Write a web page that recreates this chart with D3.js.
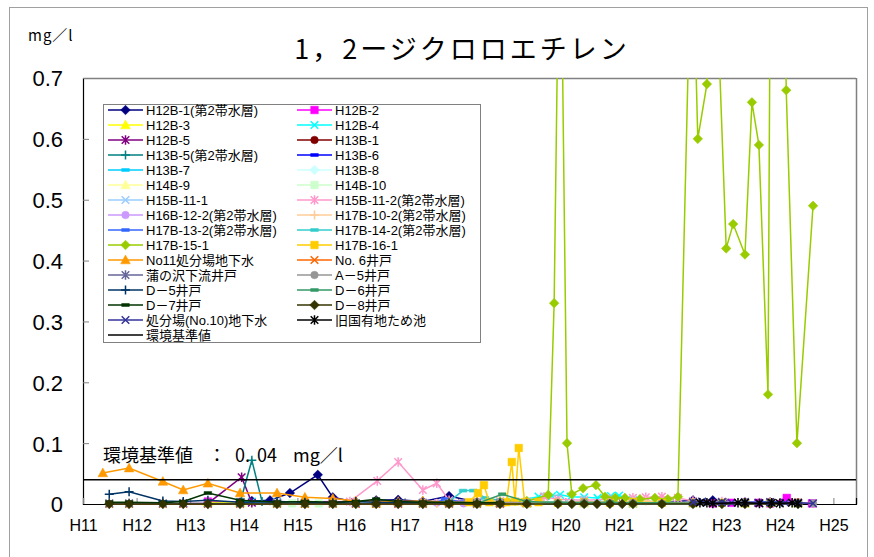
<!DOCTYPE html>
<html><head><meta charset="utf-8">
<script src="https://cdn.jsdelivr.net/npm/d3@7"></script>
<style>body{margin:0;background:#fff}svg{display:block}</style>
</head><body>
<svg id="c" width="874" height="557"></svg>
<script>
// ---------- data ----------
const xTickLabels = ["H11","H12","H13","H14","H15","H16","H17","H18","H19","H20","H21","H22","H23","H24","H25"];
const xTickYears = [11,12,13,14,15,16,17,18,19,20,21,22,23,24,25];
const yTicks = [0,0.1,0.2,0.3,0.4,0.5,0.6,0.7];
const standardValue = 0.04;

const seriesNames = ["H12B-1(第2帯水層)","H12B-2","H12B-3","H12B-4","H12B-5","H13B-1","H13B-5(第2帯水層)","H13B-6","H13B-7","H13B-8","H14B-9","H14B-10","H15B-11-1","H15B-11-2(第2帯水層)","H16B-12-2(第2帯水層)","H17B-10-2(第2帯水層)","H17B-13-2(第2帯水層)","H17B-14-2(第2帯水層)","H17B-15-1","H17B-16-1","No11処分場地下水","No. 6井戸","蒲の沢下流井戸","A－5井戸","D－5井戸","D－6井戸","D－7井戸","D－8井戸","処分場(No.10)地下水","旧国有地ため池"];

// sampling dates (Heisei year, decimal) and values (mg/l)
const x01 = [13.33,13.93,14.15,14.49,14.86,15.38,15.66,16.09,16.47,16.88,17.34,17.83,18.35,18.78,19.28,19.86,20.35,20.83,21.26,21.80,22.38,22.75,23.35,23.82,24.34];
const y01 = [0.001,0.002,0.005,0.006,0.018,0.048,0.011,0.003,0.006,0.007,0.004,0.013,0.003,0.002,0.002,0.003,0.002,0.002,0.003,0.002,0.006,0.006,0.003,0.003,0.002];
const x02 = [13.33,13.93,14.62,15.66,16.47,17.34,18.35,19.28,20.35,21.26,22.38,22.75,23.10,23.35,23.60,23.82,24.13,24.34,24.60];
const y02 = [0.004,0.003,0.002,0.004,0.002,0.002,0.002,0.002,0.002,0.003,0.002,0.001,0.002,0.001,0.002,0.001,0.010,0.002,0.001];
const x03 = [13.33,13.93,14.62,15.14,15.66,16.47,17.34,18.35,19.28,20.35,21.26,22.38,23.35,24.34];
const y03 = [0.003,0.002,0.002,0.001,0.002,0.001,0.002,0.002,0.001,0.002,0.001,0.002,0.001,0.001];
const x04 = [13.93,14.15,14.62,15.66,16.47,17.34,18.35,19.00,19.50,19.75,19.90,20.10,20.35,20.60,20.85,21.00,21.26,21.80,22.38,22.92,23.35,23.82,24.34];
const y04 = [0.003,0.004,0.003,0.002,0.002,0.002,0.003,0.004,0.012,0.013,0.015,0.012,0.011,0.010,0.013,0.014,0.006,0.003,0.002,0.002,0.003,0.002,0.002];
const x05 = [12.87,13.33,13.96,14.15,14.62,15.14,15.66,16.47,17.34,18.35,19.28,20.35,21.26,22.38,23.35,24.34];
const y05 = [0.001,0.001,0.044,0.002,0.002,0.001,0.003,0.002,0.001,0.002,0.001,0.002,0.001,0.002,0.001,0.002];
const x06 = [13.93,14.62,15.14,15.66,16.47,17.34,18.35,19.28,20.35,21.26,22.38,23.35,24.34];
const y06 = [0.002,0.001,0.002,0.001,0.001,0.002,0.001,0.001,0.002,0.001,0.001,0.002,0.001];
const x07 = [13.93,14.15,14.34,14.62,15.14,15.66,16.47,17.34,18.35,19.28,20.35,21.26,22.38,23.35,24.34];
const y07 = [0.002,0.072,0.004,0.003,0.002,0.002,0.002,0.003,0.002,0.002,0.003,0.002,0.002,0.002,0.002];
const x08 = [13.93,14.62,15.66,16.47,17.34,18.35,19.28,20.35,21.26,22.38,23.35,24.34];
const y08 = [0.001,0.002,0.001,0.001,0.002,0.001,0.002,0.001,0.001,0.002,0.001,0.001];
const x09 = [13.93,14.62,15.66,16.47,17.34,18.35,19.28,20.35,21.26,22.38,23.35,24.34];
const y09 = [0.002,0.001,0.002,0.001,0.001,0.002,0.001,0.002,0.001,0.001,0.002,0.001];
const x10 = [13.93,14.62,15.66,16.47,17.34,18.35,19.28,20.35,21.26,22.38,23.35,24.34];
const y10 = [0.001,0.001,0.001,0.002,0.001,0.001,0.001,0.002,0.001,0.001,0.001,0.001];
const x11 = [14.62,15.14,15.66,16.47,17.34,18.35,19.28,20.35,21.26,22.38,23.35,24.34];
const y11 = [0.001,0.001,0.002,0.001,0.001,0.001,0.001,0.001,0.001,0.001,0.001,0.001];
const x12 = [14.62,14.90,15.14,15.40,15.66,16.09,16.47,17.34,18.35,19.28,20.35,21.26,22.38,23.35,24.34];
const y12 = [0.001,0.001,0.001,0.001,0.001,0.001,0.001,0.001,0.001,0.001,0.001,0.001,0.001,0.001,0.001];
const x13 = [15.66,16.09,16.47,17.34,18.35,19.28,20.35,21.26,22.38,23.35,24.34];
const y13 = [0.002,0.001,0.002,0.001,0.002,0.001,0.002,0.001,0.001,0.002,0.001];
const x14 = [15.98,16.49,16.88,17.34,17.60,17.83,18.35,18.78,19.28,19.60,19.86,20.35,20.83,21.26,21.50,21.80,22.10,22.38,22.92,23.35,23.82,24.34];
const y14 = [0.004,0.038,0.069,0.023,0.034,0.006,0.004,0.005,0.004,0.012,0.008,0.006,0.008,0.010,0.011,0.012,0.010,0.005,0.004,0.003,0.003,0.002];
const x15 = [16.47,16.88,17.34,17.60,17.83,18.10,18.35,18.78,19.28,20.35,21.26,22.38,23.35,24.34];
const y15 = [0.002,0.002,0.001,0.002,0.002,0.001,0.002,0.001,0.002,0.001,0.002,0.001,0.001,0.001];
const x16 = [17.60,18.35,19.28,20.35,21.26,21.50,21.80,22.38,23.35,24.34];
const y16 = [0.001,0.001,0.002,0.003,0.004,0.005,0.003,0.002,0.001,0.001];
const x17 = [17.60,17.75,18.10,18.35,19.28,20.35,21.26,22.38,22.92,23.35,23.82,24.34];
const y17 = [0.002,0.008,0.003,0.002,0.002,0.002,0.001,0.002,0.003,0.002,0.004,0.002];
const x18 = [17.83,18.09,18.28,18.50,18.78,19.28,19.86,20.35,21.26,22.38,23.35,24.34];
const y18 = [0.004,0.022,0.022,0.010,0.006,0.004,0.003,0.002,0.002,0.001,0.002,0.001];
const x19 = [18.35,18.78,19.28,19.68,19.79,19.90,20.03,20.12,20.33,20.57,20.74,20.93,21.11,21.39,21.67,21.91,22.10,22.36,22.47,22.64,22.77,23.00,23.13,23.35,23.48,23.61,23.78,23.90,24.12,24.32,24.62];
const y19 = [0.003,0.004,0.005,0.015,0.33,1.07,0.10,0.016,0.026,0.031,0.012,0.010,0.010,0.008,0.010,0.008,0.012,0.98,0.60,0.69,0.98,0.42,0.46,0.41,0.66,0.59,0.18,2.2,0.68,0.10,0.49];
const x20 = [18.20,18.37,18.48,18.58,18.90,19.00,19.06,19.13,19.24,19.50,19.86,20.35,20.83,21.26,21.80,22.38,22.92,23.35,23.82,24.34];
const y20 = [0.003,0.018,0.031,0.003,0.003,0.069,0.004,0.092,0.003,0.003,0.002,0.003,0.002,0.003,0.002,0.002,0.002,0.002,0.002,0.002];
const x21 = [11.37,11.86,12.49,12.87,13.33,13.93,14.62,15.14,15.66,16.09,16.47,16.88,17.34,17.83,18.35,18.78,19.28];
const y21 = [0.051,0.059,0.037,0.023,0.034,0.018,0.018,0.011,0.009,0.005,0.004,0.004,0.005,0.003,0.003,0.002,0.002];
const x22 = [11.49,11.86,12.49,12.87,13.33,13.93,14.62,15.14,15.66,16.09,16.47,16.88,17.34,17.83,18.35,18.78];
const y22 = [0,0,0,0,0,0,0,0,0,0,0,0,0,0,0,0];
const x23 = [11.49,11.86,12.49,12.87,13.33,13.93,14.62,15.14,15.66,16.09,16.47,16.88,17.34,17.83,18.35,18.78];
const y23 = [0.001,0.001,0.001,0.001,0.001,0.001,0.001,0.001,0.001,0.001,0.001,0.001,0.001,0.001,0.001,0.001];
const x24 = [18.35,18.78,19.28,19.86,20.35,20.83,21.26,21.80,22.38,22.92,23.35,23.82,24.34,24.62];
const y24 = [0.002,0.003,0.002,0.002,0.003,0.002,0.002,0.001,0.002,0.001,0.002,0.001,0.002,0.001];
const x25 = [11.49,11.86,12.49,12.87,13.33,13.93,14.62,15.14,15.66,16.09,16.47,16.88,17.34,17.83,18.35,18.78];
const y25 = [0.016,0.020,0.005,0.004,0.006,0.003,0.004,0.003,0.002,0.004,0.003,0.002,0.003,0.002,0.002,0.002];
const x26 = [17.83,18.35,18.82,19.28,19.86,20.35,20.83,21.26,21.80,22.38,22.92,23.35,23.82,24.34];
const y26 = [0.002,0.001,0.016,0.004,0.002,0.002,0.003,0.002,0.002,0.001,0.002,0.001,0.002,0.001];
const x27 = [11.49,11.86,12.49,12.87,13.33,13.93,14.62,15.14,15.66,16.09,16.47,16.88,17.34,17.83,18.35,18.78];
const y27 = [0.003,0.003,0.002,0.004,0.018,0.006,0.003,0.004,0.003,0.004,0.008,0.004,0.003,0.003,0.002,0.002];
const x28 = [11.49,11.86,12.49,12.87,13.33,13.93,14.62,15.14,15.66,16.09,16.47,16.88,17.34,17.83,18.35,18.78,19.28,19.86,20.12,20.35,20.59,20.83,21.06,21.26,21.80,22.38,22.92,23.35,23.82,24.34];
const y28 = [0,0,0,0,0,0,0,0,0,0,0,0,0,0,0,0,0,0,0,0,0,0,0,0,0,0,0,0,0,0];
const x29 = [22.38,22.55,22.75,22.92,23.10,23.35,23.60,23.82,24.10,24.34,24.62];
const y29 = [0.003,0.004,0.002,0.003,0.002,0.003,0.002,0.003,0.002,0.002,0.001];
const x30 = [22.51,22.64,22.75,23.22,23.35,23.62,23.85,24.00,24.23,24.34];
const y30 = [0.002,0.002,0.001,0.002,0.002,0.001,0.002,0.001,0.002,0.001];

// ---------- styles ----------
const seriesColors = ["#000080","#FF00FF","#FFFF00","#00FFFF","#800080","#800000","#008080","#0000FF","#00CCFF","#CCFFFF","#FFFF99","#CCFFCC","#99CCFF","#FF99CC","#CC99FF","#FFCC99","#3366FF","#33CCCC","#99CC00","#FFCC00","#FF9900","#FF6600","#666699","#969696","#003366","#339966","#003300","#333300","#333399","#000000"];
const seriesMarkers = ["diamond","square","triangle","x","asterisk","circle","plus","dash","dash","diamond","triangle","square","x","asterisk","circle","plus","dash","dash","diamond","square","triangle","x","asterisk","circle","plus","dash","dash","diamond","x","asterisk"];
const xs = [x01,x02,x03,x04,x05,x06,x07,x08,x09,x10,x11,x12,x13,x14,x15,x16,x17,x18,x19,x20,x21,x22,x23,x24,x25,x26,x27,x28,x29,x30];
const ys = [y01,y02,y03,y04,y05,y06,y07,y08,y09,y10,y11,y12,y13,y14,y15,y16,y17,y18,y19,y20,y21,y22,y23,y24,y25,y26,y27,y28,y29,y30];

const series = seriesNames.map((name,i)=>({name, color:seriesColors[i], marker:seriesMarkers[i],
  points: xs[i].map((t,j)=>({t, v:ys[i][j]}))}));

// ---------- layout ----------
const svg = d3.select("#c");
const L = 83, R = 856, T = 78, B = 504;
const x = d3.scaleLinear().domain([11, 11 + (R - L) / 53.6]).range([L, R]);
const y = d3.scaleLinear().domain([0, 0.7]).range([B, T]);
const jp = "'Noto Sans CJK JP', 'Noto Sans', sans-serif";
const lgFont = "'Liberation Sans', 'Noto Sans CJK JP', sans-serif";
const num = "'Liberation Sans', Arial, sans-serif";

// outer frame
svg.append("rect").attr("x",9.5).attr("y",7.5).attr("width",858).attr("height",560)
  .attr("fill","none").attr("stroke","#a0a0a0").attr("stroke-width",1);

// title & unit
svg.append("text").attr("x",462).attr("y",59).attr("text-anchor","middle")
  .attr("font-family",jp).attr("font-size",27).attr("letter-spacing",3).attr("fill","#000")
  .text("1，2ージクロロエチレン");
svg.append("text").attr("x",28).attr("y",41).attr("font-family",jp).attr("font-size",15)
  .attr("letter-spacing",1).text("mg／l");

// plot frame
svg.append("line").attr("x1",L).attr("x2",R).attr("y1",T+0.5).attr("y2",T+0.5).attr("stroke","#808080").attr("stroke-width",1.5);
svg.append("line").attr("x1",R+0.5).attr("x2",R+0.5).attr("y1",T).attr("y2",B).attr("stroke","#808080").attr("stroke-width",1.5);

// axes
const yAxis = d3.axisLeft(y).tickValues(yTicks).tickSize(-6).tickPadding(20).tickFormat(d=> d===0 ? "0" : d3.format(".1f")(d));
const gy = svg.append("g").attr("transform",`translate(${L},0)`).call(yAxis);
gy.select(".domain").attr("stroke","#000").attr("stroke-width",1.2);
gy.selectAll(".tick line").attr("stroke","#808080");
gy.selectAll(".tick text").attr("font-family",num).attr("font-size",22).attr("fill","#000").attr("x",-20).attr("dy","0.36em");

const xAxis = d3.axisBottom(x).tickValues(xTickYears).tickSize(-6).tickPadding(16).tickFormat((d,i)=>xTickLabels[i]);
const gx = svg.append("g").attr("transform",`translate(0,${B})`).call(xAxis);
gx.select(".domain").attr("stroke","#000").attr("stroke-width",1.2);
gx.selectAll(".tick line").attr("stroke","#808080");
gx.selectAll(".tick text").attr("font-family",num).attr("font-size",16).attr("fill","#000").attr("y",16).attr("dy","0.71em");

// clip
svg.append("clipPath").attr("id","clip").append("rect").attr("x",L-8).attr("y",T).attr("width",R-L+12).attr("height",B-T+16);
svg.append("clipPath").attr("id","clip2").append("rect").attr("x",L).attr("y",T).attr("width",R-L).attr("height",B-T+6);

function markerPath(type){
  switch(type){
    case "diamond": return "M0,-4.8L4.8,0L0,4.8L-4.8,0Z";
    case "square": return "M-3.8,-3.8H3.8V3.8H-3.8Z";
    case "triangle": return "M0,-5L4.8,3.8H-4.8Z";
    case "circle": return "M3.8,0A3.8,3.8,0,1,1,-3.8,0A3.8,3.8,0,1,1,3.8,0Z";
    case "plus": return "M-4.5,0H4.5M0,-4.5V4.5";
    case "x": return "M-3.8,-3.8L3.8,3.8M-3.8,3.8L3.8,-3.8";
    case "asterisk": return "M-3.8,-3.8L3.8,3.8M-3.8,3.8L3.8,-3.8M0,-4.8V4.8";
    case "dash": return "M-3.8,-1.5H3.8V1.5H-3.8Z";
  }
}
const stroked = t => t==="plus"||t==="x"||t==="asterisk";

function drawMarker(g, type, color, cx, cy){
  const p = g.append("path").attr("d", markerPath(type)).attr("transform",`translate(${cx},${cy})`);
  if (stroked(type)) p.attr("fill","none").attr("stroke",color).attr("stroke-width",1.5);
  else p.attr("fill",color).attr("stroke",color).attr("stroke-width",0.5);
}

const plot = svg.append("g").attr("clip-path","url(#clip)");
const line = d3.line().x(d=>x(d.t)).y(d=>y(d.v));
series.forEach(s=>{
  const g = plot.append("g");
  g.append("path").datum(s.points).attr("d",line).attr("fill","none").attr("stroke",s.color).attr("stroke-width",1.5).attr("clip-path","url(#clip2)");
  s.points.forEach(p=>{ if (p.v <= 0.7) drawMarker(g, s.marker, s.color, x(p.t), y(p.v)); });
});

// standard line
svg.append("line").attr("x1",L).attr("x2",R).attr("y1",y(standardValue)).attr("y2",y(standardValue)).attr("stroke","#000").attr("stroke-width",1.5);

// annotation
const ann = svg.append("text").attr("y",462).attr("font-family",jp).attr("font-size",18).attr("fill","#000");
ann.append("tspan").attr("x",103).text("環境基準値");
ann.append("tspan").attr("x",208).text("：");
ann.append("tspan").attr("x",235).text("0.");
ann.append("tspan").attr("x",257).text("04");
ann.append("tspan").attr("x",293).text("mg／l");

// legend
const lg = svg.append("g");
lg.append("rect").attr("x",103.5).attr("y",104.5).attr("width",377).attr("height",238).attr("fill","#fff").attr("stroke","#808080").attr("stroke-width",1);
const legendItems = series.map(s=>({name:s.name,color:s.color,marker:s.marker})).concat([{name:"環境基準値",color:"#000",marker:null}]);
legendItems.forEach((it,i)=>{
  const col = i % 2, row = Math.floor(i/2);
  const lx = col===0 ? 108 : 297;
  const ly = 110 + row*15;
  lg.append("line").attr("x1",lx).attr("x2",lx+35).attr("y1",ly).attr("y2",ly).attr("stroke",it.color).attr("stroke-width",1.5);
  if (it.marker) drawMarker(lg, it.marker, it.color, lx+17.5, ly);
  lg.append("text").attr("x",lx+38).attr("y",ly).attr("dy","0.36em").attr("font-family",lgFont).attr("font-size",13).attr("fill","#000").text(it.name);
});
</script>
</body></html>
